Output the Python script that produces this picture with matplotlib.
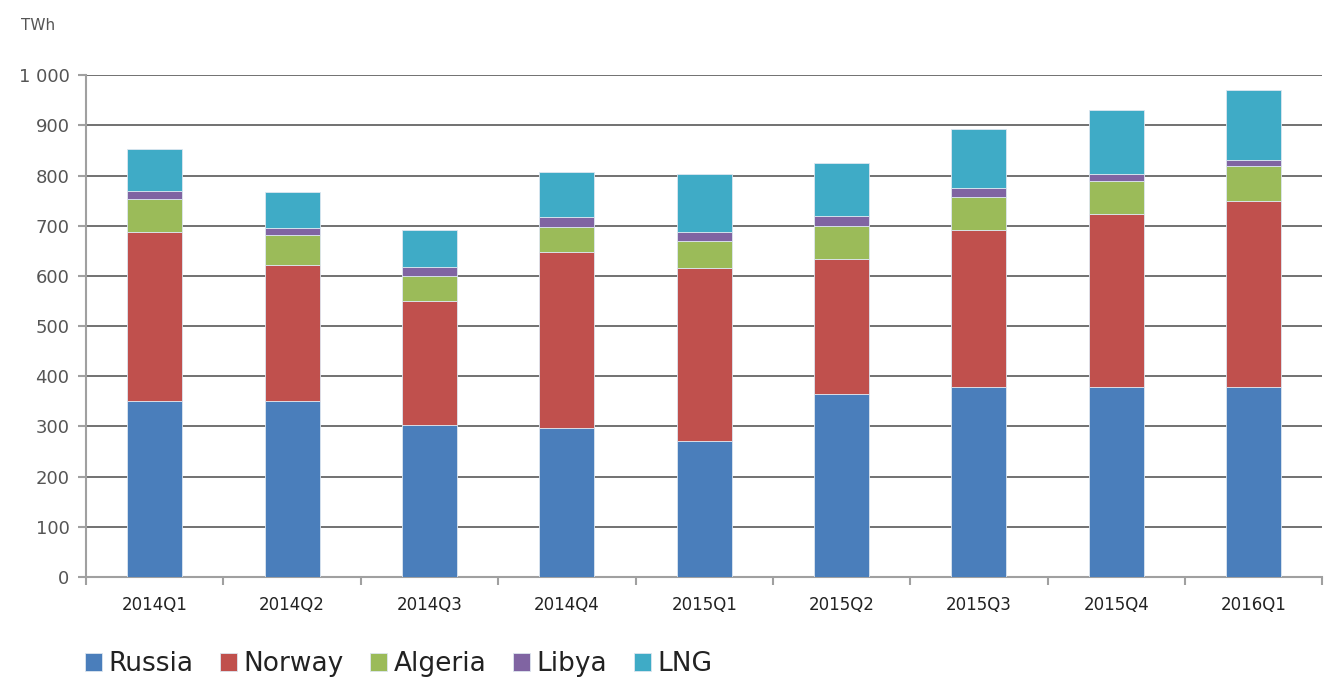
import matplotlib.pyplot as plt
import numpy as np

quarters = ["2014Q1", "2014Q2", "2014Q3", "2014Q4", "2015Q1",
            "2015Q2", "2015Q3", "2015Q4", "2016Q1"]
russia = [350, 350, 303, 297, 271, 365, 378, 378, 378]
norway = [337, 271, 247, 350, 345, 268, 313, 345, 371]
algeria = [66, 60, 50, 50, 53, 66, 66, 66, 70]
libya = [16, 14, 17, 20, 18, 20, 18, 14, 12]
lng = [84, 72, 74, 90, 116, 106, 117, 127, 139]

series = [("Russia", russia, "#4a7ebb"),
          ("Norway", norway, "#c0504d"),
          ("Algeria", algeria, "#9bbb59"),
          ("Libya", libya, "#8064a2"),
          ("LNG", lng, "#3fabc6")]

fig = plt.figure(figsize=(13.25, 6.78), dpi=100)
ax = fig.add_axes([0.065, 0.149, 0.933, 0.740])

x = np.arange(len(quarters))
bottom = np.zeros(len(quarters))
for name, vals, col in series:
    ax.bar(x, vals, width=0.4, bottom=bottom, color=col, label=name,
           edgecolor="#dde6f0", linewidth=0.6, zorder=3)
    bottom += np.array(vals)

ax.set_xlim(-0.5, len(quarters) - 0.5)
ax.set_ylim(0, 1000)
ax.set_yticks(range(0, 1001, 100))
ax.set_yticklabels(["1 000" if v == 1000 else str(v) for v in range(0, 1001, 100)])
ax.yaxis.grid(True, color="#666666", linewidth=1.3, zorder=0)
ax.set_axisbelow(True)

# category boundary ticks on x axis
ax.set_xticks(np.arange(-0.5, len(quarters), 1.0))
ax.set_xticklabels([])
ax.set_xticks(x, minor=True)
ax.set_xticklabels(quarters, minor=True, fontsize=12, color="#222222")
ax.tick_params(axis="x", which="minor", length=0, pad=14)
ax.tick_params(axis="x", which="major", length=6, color="#a0a0a0", width=1.5)
ax.tick_params(axis="y", length=6, color="#a0a0a0", width=1.5,
               labelsize=13, labelcolor="#555555", pad=6)

for s in ["top", "right"]:
    ax.spines[s].set_visible(False)
ax.spines["left"].set_color("#a0a0a0")
ax.spines["left"].set_linewidth(1.5)
ax.spines["bottom"].set_color("#a0a0a0")
ax.spines["bottom"].set_linewidth(1.5)

fig.text(0.016, 0.962, "TWh", fontsize=11, color="#555555", va="center")

leg = fig.legend(loc="lower left", bbox_to_anchor=(0.046, -0.034), ncol=5,
                 frameon=False, fontsize=19, handlelength=0.65, handleheight=0.65,
                 handletextpad=0.25, columnspacing=1.0)
for t in leg.get_texts():
    t.set_color("#222222")

fig.savefig("out.png", dpi=100)
